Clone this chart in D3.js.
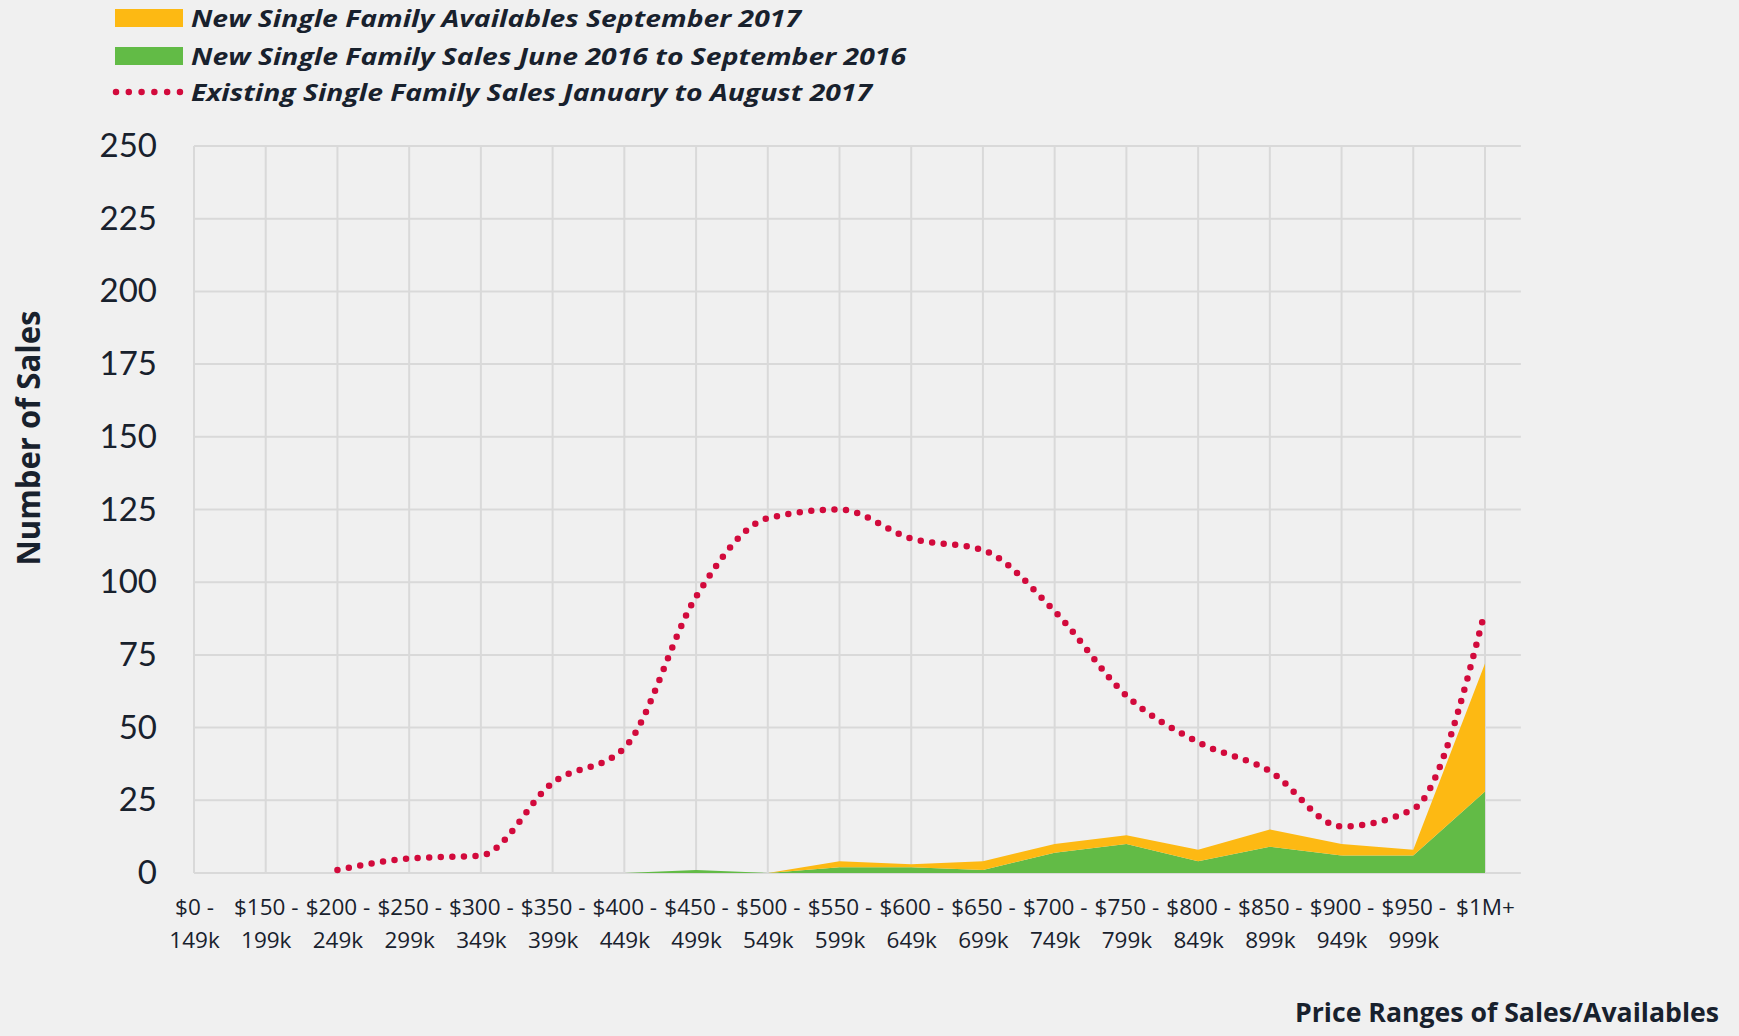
<!DOCTYPE html>
<html>
<head>
<meta charset="utf-8">
<script src="https://cdn.jsdelivr.net/npm/d3@7/dist/d3.min.js"></script>
<style>
  html, body { margin: 0; padding: 0; background: #f0f0f0; }
  svg { display: block; }
</style>
</head>
<body>
<script>
// data
var categories = ["$0 - 149k", "$150 - 199k", "$200 - 249k", "$250 - 299k", "$300 - 349k",
    "$350 - 399k", "$400 - 449k", "$450 - 499k", "$500 - 549k", "$550 - 599k", "$600 - 649k",
    "$650 - 699k", "$700 - 749k", "$750 - 799k", "$800 - 849k", "$850 - 899k", "$900 - 949k",
    "$950 - 999k", "$1M+"];
var newSales = [0, 0, 0, 0, 0, 0, 0, 1, 0, 2, 2, 1, 7, 10, 4, 9, 6, 6, 28];
var newAvailables = [0, 0, 0, 0, 0, 0, 0, 0, 0, 2, 1, 3, 3, 3, 4, 6, 4, 2, 44];
var existingSales = [null, null, 1, 5, 6, 31, 43, 95, 122, 125, 115, 111, 90, 61, 45, 35, 16, 22, 90];
var yTicks = [0, 25, 50, 75, 100, 125, 150, 175, 200, 225, 250];

var legendNames = ["New Single Family Availables September 2017",
    "New Single Family Sales June 2016 to September 2016",
    "Existing Single Family Sales January to August 2017"];

var width = 1739;
var height = 1036;

var yellow = "#fdb913";
var green = "#62bb46";
var red = "#d20a3c";
var grid = "#d9d9d9";
var ink = "#18212d";

var svg = d3.select("body").append("svg")
    .attr("width", width)
    .attr("height", height)
    .style("background", "#f0f0f0");

var xScale = d3.scalePoint().domain(categories).range([194, 1485]);
var yScale = d3.scaleLinear().domain([0, 250]).range([873, 146]);
var plotRight = xScale(categories[categories.length - 1]) + xScale.step() / 2;

// gridlines
svg.append("g").selectAll("line")
    .data(yTicks)
    .enter().append("line")
    .attr("x1", xScale(categories[0]))
    .attr("x2", plotRight)
    .attr("y1", d => yScale(d))
    .attr("y2", d => yScale(d))
    .attr("stroke", grid)
    .attr("stroke-width", 2);

svg.append("g").selectAll("line")
    .data(categories)
    .enter().append("line")
    .attr("x1", d => xScale(d))
    .attr("x2", d => xScale(d))
    .attr("y1", yScale(250))
    .attr("y2", yScale(0))
    .attr("stroke", grid)
    .attr("stroke-width", 2);

// stacked areas
var rows = categories.map(function (c, i) {
    return { cat: c, sales: newSales[i], availables: newAvailables[i] };
});
var stacked = d3.stack().keys(["sales", "availables"])(rows);

var area = d3.area()
    .x(d => xScale(d.data.cat))
    .y0(d => yScale(d[0]))
    .y1(d => yScale(d[1]));

svg.append("g").selectAll("path")
    .data(stacked)
    .enter().append("path")
    .attr("fill", d => d.key == "sales" ? green : yellow)
    .attr("d", area);

// existing sales, dotted smooth line
var line = d3.line()
    .defined(d => d != null)
    .x((d, i) => xScale(categories[i]))
    .y(d => yScale(d))
    .curve(d3.curveMonotoneX);

var redPath = svg.append("path")
    .datum(existingSales)
    .attr("fill", "none")
    .attr("stroke", red)
    .attr("stroke-width", 6.5)
    .attr("stroke-linecap", "round")
    .attr("d", line);

// space dots so one lands on each end
var len = redPath.node().getTotalLength();
var gap = len / Math.round(len / 11.6) - 0.002;
redPath.attr("stroke-dasharray", "0 " + gap);

// y axis
var yAxis = d3.axisLeft(yScale).tickValues(yTicks).tickSize(0).tickPadding(37);
var yg = svg.append("g")
    .attr("transform", "translate(" + xScale(categories[0]) + ",0)")
    .call(yAxis);
yg.select(".domain").remove();
yg.selectAll("text")
    .attr("fill", ink)
    .style("font-family", "Lato, 'Open Sans', sans-serif")
    .style("font-size", "33px");

// x axis, two-line labels
var xAxis = d3.axisBottom(xScale).tickSize(0).tickFormat("");
var xg = svg.append("g")
    .attr("transform", "translate(0," + yScale(0) + ")")
    .call(xAxis);
xg.select(".domain").remove();
xg.selectAll(".tick").each(function (d) {
    var parts = d.split(" - ");
    var t = d3.select(this).append("text")
        .attr("fill", ink)
        .attr("text-anchor", "middle")
        .style("font-family", "'Open Sans', sans-serif")
        .style("font-size", "22.5px");
    t.append("tspan").attr("x", 0).attr("y", 42)
        .text(parts.length > 1 ? parts[0] + " -" : parts[0]);
    if (parts.length > 1) {
        t.append("tspan").attr("x", 0).attr("y", 75).text(parts[1]);
    }
});

// axis titles
svg.append("text")
    .attr("transform", "translate(40,438) rotate(-90)")
    .attr("text-anchor", "middle")
    .attr("fill", ink)
    .attr("textLength", 255)
    .attr("lengthAdjust", "spacingAndGlyphs")
    .style("font-family", "'Open Sans', sans-serif")
    .style("font-weight", "bold")
    .style("font-size", "33px")
    .text("Number of Sales");

svg.append("text")
    .attr("x", 1719)
    .attr("y", 1022)
    .attr("text-anchor", "end")
    .attr("fill", ink)
    .attr("textLength", 424)
    .attr("lengthAdjust", "spacingAndGlyphs")
    .style("font-family", "'Open Sans', sans-serif")
    .style("font-weight", "bold")
    .style("font-size", "27px")
    .text("Price Ranges of Sales/Availables");

// legend
var legendY = [18, 56, 92];
var legendW = [610, 715, 681];
var legend = svg.append("g");

legend.append("rect")
    .attr("x", 115).attr("y", 9).attr("width", 68).attr("height", 18)
    .attr("fill", yellow);
legend.append("rect")
    .attr("x", 115).attr("y", 47).attr("width", 68).attr("height", 18)
    .attr("fill", green);
legend.append("line")
    .attr("x1", 116).attr("x2", 180)
    .attr("y1", legendY[2]).attr("y2", legendY[2])
    .attr("stroke", red)
    .attr("stroke-width", 6.5)
    .attr("stroke-linecap", "round")
    .attr("stroke-dasharray", "0 12.79");

legend.selectAll("text")
    .data(legendNames)
    .enter().append("text")
    .attr("x", 191)
    .attr("y", (d, i) => legendY[i] + 8.5)
    .attr("fill", ink)
    .attr("textLength", (d, i) => legendW[i])
    .attr("lengthAdjust", "spacingAndGlyphs")
    .style("font-family", "'Open Sans', sans-serif")
    .style("font-weight", "bold")
    .style("font-style", "italic")
    .style("font-size", "24px")
    .text(d => d);
</script>
</body>
</html>
